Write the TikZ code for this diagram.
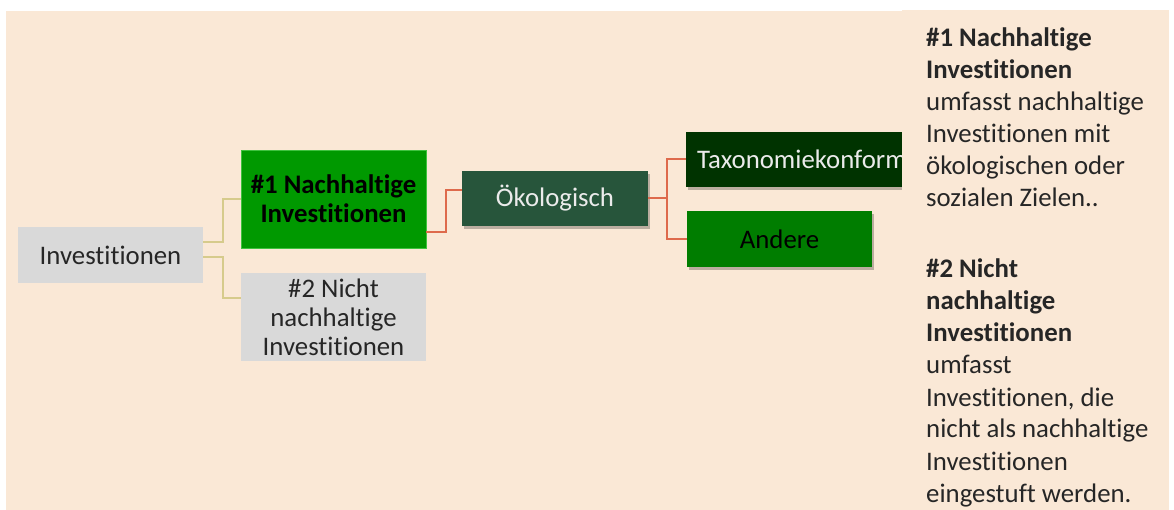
\documentclass[tikz,border=0pt]{standalone}
\usepackage{fontspec}
\setmainfont[Ligatures=NoCommon]{Carlito}
\usetikzlibrary{shadows}
\definecolor{bg}{HTML}{FAE8D6}
\definecolor{boxgray}{HTML}{D9D9D9}
\definecolor{green1}{HTML}{009900}
\definecolor{green1line}{HTML}{3FC23F}
\definecolor{oekgreen}{HTML}{27553B}
\definecolor{taxgreen}{HTML}{003300}
\definecolor{andgreen}{HTML}{007D00}
\definecolor{khaki}{HTML}{D6CB8C}
\definecolor{coral}{HTML}{DE6A4C}
\definecolor{txtdark}{HTML}{262626}
\tikzset{
  box/.style={rectangle, inner sep=0pt, align=center,
    font=\fontsize{26.8}{29}\selectfont},
  shad/.style={drop shadow={shadow xshift=2pt, shadow yshift=-3pt, opacity=0.25, fill=black}},
  connA/.style={draw=khaki, line width=2pt},
  connB/.style={draw=coral, line width=2pt},
  paneltext/.style={inner sep=0pt, text=txtdark,
    font=\fontsize{26.8}{32}\selectfont}
}
\begin{document}
\begin{tikzpicture}[x=1pt,y=-1pt]
\useasboundingbox (0,0) rectangle (1174,510);
\fill[white] (0,0) rectangle (1174,510);
\fill[bg] (6,11) rectangle (1169,510);

% nodes
\node[box, fill=boxgray, text=txtdark, minimum width=185, minimum height=56] (inv) at (110.5,255) {Investitionen};
\node[box, fill=green1, draw=green1line, line width=0.8pt, text=black, minimum width=185, minimum height=98] (n1) at (333.5,199) {\textbf{\#1 Nachhaltige}\\\textbf{Investitionen}};
\node[box, fill=boxgray, text=txtdark, minimum width=185, minimum height=88] (n2) at (333.5,317) {\#2 Nicht\\nachhaltige\\Investitionen};
\node[box, shad, fill=oekgreen, text=white!92!black, minimum width=186, minimum height=55] (oek) at (555,198.5) {Ökologisch};
\node[box, shad, fill=taxgreen, text=white!92!black, anchor=west, text width=230, align=left, inner xsep=11, minimum height=55] (tax) at (686,159.5) {Taxonomiekonform};
\node[box, shad, fill=andgreen, text=black, minimum width=185, minimum height=56] (and) at (779.5,239) {Andere};

% connectors
\draw[connA] ([yshift=13pt]inv.east) -- ++(20,0) |- (n1.west);
\draw[connA] ([yshift=-2pt]inv.east) -- ++(20,0) |- ([yshift=19pt]n2.west);
\draw[connB] ([yshift=-33pt]n1.east) -- ++(20,0) |- ([yshift=8pt]oek.west);
\draw[connB] (oek.east) -- ++(19,0) |- (tax.west);
\draw[connB] (oek.east) -- ++(19,0) |- (and.west);

% right panel
\fill[bg] (902,10) rectangle (1169,510);
\node[paneltext, anchor=base west] (p1) at (926,47) {\begin{tabular}[t]{@{}l@{}}\textbf{\#1 Nachhaltige}\\\textbf{Investitionen}\\umfasst nachhaltige\\Investitionen mit\\ökologischen oder\\sozialen Zielen..\end{tabular}};
\node[paneltext, anchor=base west] (p2) at (926,278) {\begin{tabular}[t]{@{}l@{}}\textbf{\#2 Nicht}\\\textbf{nachhaltige}\\\textbf{Investitionen}\\umfasst\\Investitionen, die\\nicht als nachhaltige\\Investitionen\\eingestuft werden.\end{tabular}};
\end{tikzpicture}
\end{document}
